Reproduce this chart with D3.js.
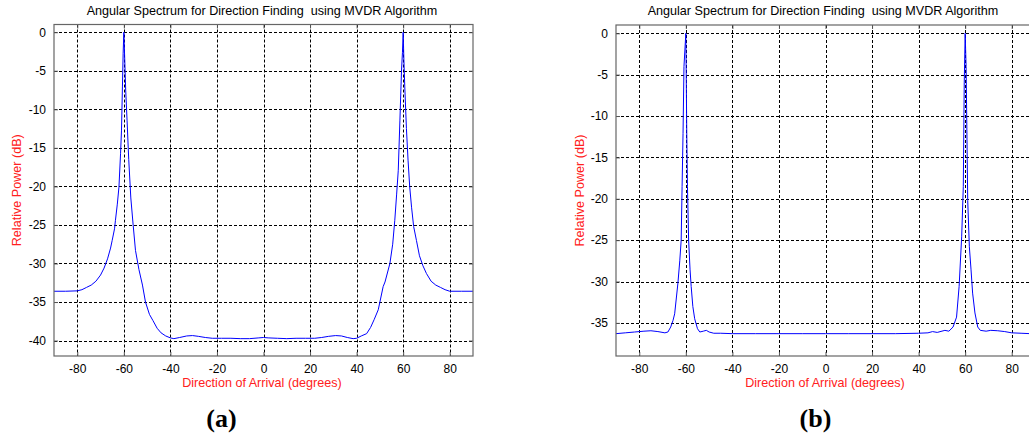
<!DOCTYPE html>
<html>
<head>
<meta charset="utf-8">
<script src="https://cdn.jsdelivr.net/npm/d3@7"></script>
<style>
  html, body { margin: 0; padding: 0; background: #fff; }
  svg { display: block; }
  text { font-family: "Liberation Sans", Arial, sans-serif; white-space: pre; }
</style>
</head>
<body>
<svg id="chart" width="1029" height="433"></svg>
<script>
const titleText = "Angular Spectrum for Direction Finding  using MVDR Algorithm";
const xLabelText = "Direction of Arrival (degrees)";
const yLabelText = "Relative Power (dB)";
const panelLabels = ["(a)", "(b)"];
const xTicks = [-80, -60, -40, -20, 0, 20, 40, 60, 80];
const yTicksA = [0, -5, -10, -15, -20, -25, -30, -35, -40];
const yTicksB = [0, -5, -10, -15, -20, -25, -30, -35];
const xDomain = [-90, 90];
const yDomainA = [-42, 1];
const yDomainB = [-39, 1];

const anglesA = [-90, -85, -80, -78, -76, -74, -72, -70, -68.5, -67, -65.7, -65, -64, -63.6, -62.8, -62.1, -61.4, -61, -60.6, -60.3, -60,
  -59.6, -59.2, -58.6, -57.9, -57, -56, -55, -53.5, -52, -50.7, -49, -47.5, -45.7, -44, -42, -40, -38.5, -36, -33, -30.5, -28, -25, -22, -18, -14, -10, -6, -2,
  0, 2, 6, 10, 14, 18, 22, 25, 28, 31, 33.5, 36, 38.5, 40, 42, 44.3, 46, 47.5, 49.3, 51.4, 52.2, 54.3, 55.5, 56.4, 57.2, 57.9, 58.6, 59.3, 59.7, 60,
  60.3, 60.7, 61.4, 62.1, 62.8, 63.6, 64.5, 65.7, 67, 68.5, 70, 72, 74, 76, 78, 80, 85, 90];
const powerA = [-33.6, -33.6, -33.55, -33.4, -33.1, -32.8, -32.3, -31.5, -30.6, -29.4, -28.0, -27.0, -25.5, -24.4, -22.3, -20.1, -15.7, -12.7, -7.1, -2.8, 0,
  -3.6, -7.5, -11.5, -16.5, -21.5, -25.0, -28.3, -30.8, -32.8, -35.0, -36.6, -37.4, -38.4, -39.0, -39.4, -39.65, -39.75, -39.6, -39.4, -39.35, -39.45, -39.6, -39.7, -39.7, -39.7, -39.75, -39.75, -39.65,
  -39.6, -39.65, -39.7, -39.75, -39.7, -39.7, -39.7, -39.6, -39.45, -39.35, -39.4, -39.6, -39.75, -39.7, -39.4, -39.1, -38.3, -37.3, -36.0, -33.0, -32.4, -30.0, -27.5, -24.4, -21.0, -17.9, -11.4, -4.9, -2.6, 0,
  -3.5, -7.1, -12.5, -16.6, -20.0, -22.7, -25.2, -27.0, -29.0, -30.3, -31.3, -32.3, -32.8, -33.1, -33.4, -33.6, -33.6, -33.6];

const anglesB = [-90, -86, -82, -78, -75, -72, -69, -67.7, -66.5, -65.5, -64.8, -63.4, -62.6, -62, -61.6, -61.2, -60.8, -60,
  -59.6, -59.3, -58.8, -58.2, -57.7, -57, -56.2, -55, -54, -52.5, -51.2, -50, -48, -45, -40, -30, -20, -10, 0, 10, 20, 30,
  40, 44, 46, 48, 51.3, 53, 54.8, 56.3, 57.4, 58.5, 59.2, 59.6, 60,
  60.4, 61.1, 61.8, 62.5, 63.2, 64.2, 65.4, 66.5, 69, 71, 74, 77, 80, 84, 88, 90];
const powerB = [-36.3, -36.2, -36.1, -36.0, -35.95, -36.05, -36.2, -36.1, -35.5, -34.7, -33.9, -30.2, -27.5, -25.0, -18.5, -12.1, -4.0, 0,
  -12.0, -18.5, -25.0, -28.5, -30.6, -33.0, -34.5, -35.7, -36.1, -36.0, -35.9, -36.1, -36.25, -36.25, -36.3, -36.3, -36.3, -36.3, -36.3, -36.3, -36.3, -36.3,
  -36.25, -36.2, -36.05, -36.15, -35.9, -36.0, -35.5, -34.3, -30.6, -24.6, -18.5, -6.0, 0,
  -4.0, -20.2, -25.8, -28.5, -31.4, -33.8, -35.5, -35.9, -36.0, -35.9, -35.95, -36.05, -36.2, -36.25, -36.3, -36.3];

const svg = d3.select("#chart");
const sansFont = '"Liberation Sans", Arial, sans-serif';

function drawPanel(cfg) {
  const g = svg.append("g");
  const x = d3.scaleLinear().domain(xDomain).range([cfg.left, cfg.right]);
  const y = d3.scaleLinear().domain(cfg.yDomain).range([cfg.bottom, cfg.top]);

  const clipId = "clip" + cfg.id;
  svg.append("clipPath").attr("id", clipId).append("rect")
    .attr("x", cfg.left).attr("y", cfg.top)
    .attr("width", cfg.right - cfg.left).attr("height", cfg.bottom - cfg.top);

  // grid
  const grid = g.append("g");
  grid.selectAll("line.gx").data(xTicks).join("line")
    .attr("x1", d => Math.round(x(d)) + 0.5).attr("x2", d => Math.round(x(d)) + 0.5)
    .attr("y1", cfg.top).attr("y2", cfg.bottom)
    .attr("stroke", "#000").attr("stroke-width", 1).attr("stroke-dasharray", "3,2");
  grid.selectAll("line.gy").data(cfg.yTicks).join("line")
    .attr("y1", d => Math.round(y(d)) + 0.5).attr("y2", d => Math.round(y(d)) + 0.5)
    .attr("x1", cfg.left).attr("x2", cfg.right)
    .attr("stroke", "#000").attr("stroke-width", 1).attr("stroke-dasharray", "3,2");

  // curve
  const pts = cfg.angles.map((a, i) => [a, cfg.power[i]]);
  g.append("path").datum(pts)
    .attr("clip-path", `url(#${clipId})`)
    .attr("fill", "none").attr("stroke", "#0000ff").attr("stroke-width", 1)
    .attr("d", d3.line().x(d => x(d[0])).y(d => y(d[1])));

  // axes (inward ticks, MATLAB style)
  const tickLen = 4;
  const fmt = d => String(d);
  const axB = d3.axisBottom(x).tickValues(xTicks).tickFormat(fmt).tickSizeInner(-tickLen).tickSizeOuter(0).tickPadding(8);
  const axL = d3.axisLeft(y).tickValues(cfg.yTicks).tickFormat(fmt).tickSizeInner(-tickLen).tickSizeOuter(0).tickPadding(8);
  const axT = d3.axisTop(x).tickValues(xTicks).tickSizeInner(-tickLen).tickSizeOuter(0).tickFormat("");
  const axR = d3.axisRight(y).tickValues(cfg.yTicks).tickSizeInner(-tickLen).tickSizeOuter(0).tickFormat("");

  const styleAxis = sel => {
    sel.selectAll(".domain").remove();
    sel.selectAll("line").attr("stroke", "#555");
    sel.selectAll("text").attr("fill", "#000").style("font-size", "12px")
      .style("font-family", sansFont);
  };
  g.append("g").attr("transform", `translate(0,${cfg.bottom})`).call(axB).call(styleAxis);
  g.append("g").attr("transform", `translate(${cfg.left},0)`).call(axL).call(styleAxis);
  g.append("g").attr("transform", `translate(0,${cfg.top})`).call(axT).call(styleAxis);
  g.append("g").attr("transform", `translate(${cfg.right},0)`).call(axR).call(styleAxis);

  g.append("rect")
    .attr("x", cfg.left).attr("y", cfg.top)
    .attr("width", cfg.right - cfg.left).attr("height", cfg.bottom - cfg.top)
    .attr("fill", "none").attr("stroke", "#666").attr("stroke-width", 1.2);

  // texts
  g.append("text").attr("x", cfg.titleX).attr("y", 15)
    .attr("text-anchor", "middle").style("font-size", "12.6px").attr("fill", "#000")
    .text(titleText);
  g.append("text").attr("x", cfg.xLabelX).attr("y", 387)
    .attr("text-anchor", "middle").style("font-size", "12.6px").attr("fill", "#ff2020")
    .text(xLabelText);
  g.append("text").attr("transform", `translate(${cfg.yLabelX},${(cfg.top + cfg.bottom) / 2}) rotate(-90)`)
    .attr("text-anchor", "middle").attr("dy", "0.35em").style("font-size", "12.6px").attr("fill", "#ff2020")
    .text(yLabelText);
  g.append("text").attr("x", cfg.panelX).attr("y", 427)
    .attr("text-anchor", "middle")
    .style("font-family", '"Liberation Serif", "Times New Roman", serif')
    .style("font-weight", "bold").style("font-size", "26px").attr("fill", "#000")
    .text(cfg.label);
}

drawPanel({ id: "a", left: 54, right: 473, top: 24.5, bottom: 356, yDomain: yDomainA, yTicks: yTicksA,
  angles: anglesA, power: powerA, titleX: 262, xLabelX: 262, yLabelX: 17, panelX: 221.5, label: panelLabels[0] });
drawPanel({ id: "b", left: 616, right: 1035, top: 25, bottom: 356, yDomain: yDomainB, yTicks: yTicksB,
  angles: anglesB, power: powerB, titleX: 823, xLabelX: 825, yLabelX: 580, panelX: 815.5, label: panelLabels[1] });
</script>
</body>
</html>
